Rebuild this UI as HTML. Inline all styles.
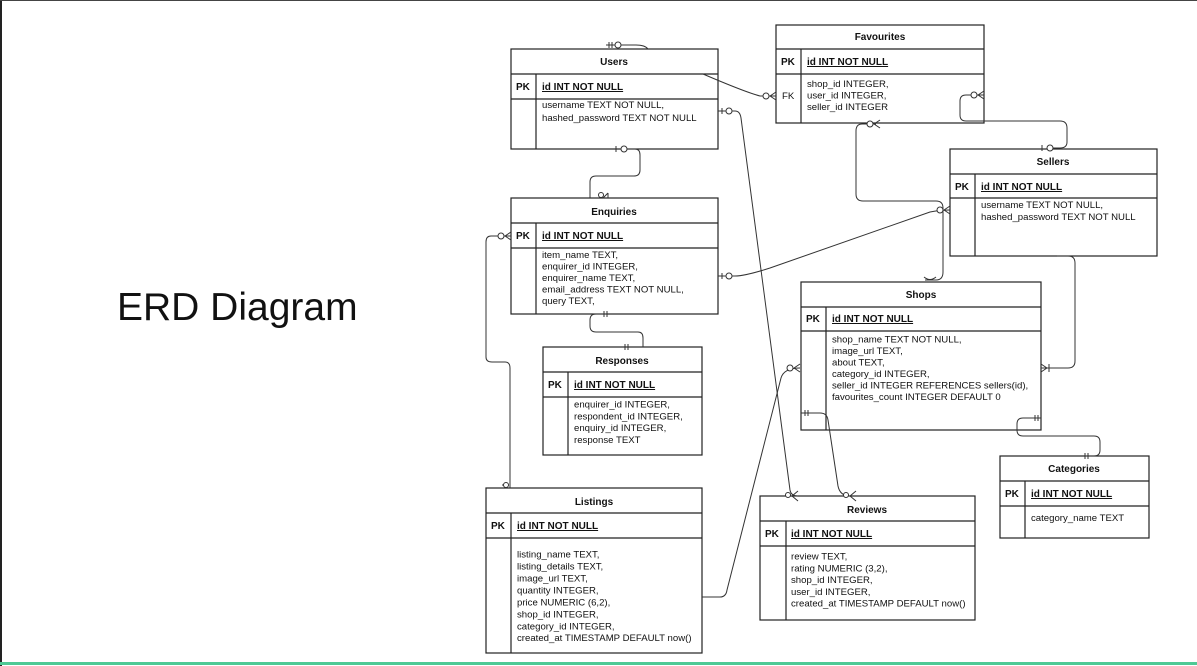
<!DOCTYPE html>
<html><head><meta charset="utf-8"><style>
html,body{margin:0;padding:0;background:#fff;}
svg{display:block;}
text{font-family:"Liberation Sans",Arial,sans-serif;fill:#111;}
.t{font-size:10px;font-weight:bold;text-anchor:middle;}
.pk{font-size:10px;font-weight:bold;}
.b{font-size:9.6px;}
.r{fill:#fff;stroke:#222;stroke-width:1.2;}
.l{stroke:#222;stroke-width:1.2;fill:none;}
.c{stroke:#333;stroke-width:1;fill:none;}
</style></head><body>
<svg width="1197" height="666" viewBox="0 0 1197 666" xmlns="http://www.w3.org/2000/svg">
<rect x="0" y="0" width="1197" height="666" fill="#fff"/>
<rect x="0" y="0" width="2" height="666" fill="#222"/>
<rect x="0" y="0" width="1197" height="1" fill="#444"/>
<rect x="0" y="662" width="1197" height="3" fill="#4ec995"/>
<text x="117" y="320" style="font-size:39px" fill="#222">ERD Diagram</text>

<!-- Users -->
<rect class="r" x="511" y="49" width="207" height="100"/>
<path class="l" d="M511,74 H718 M511,99 H718 M536,74 V149"/>
<text class="t" x="614" y="65">Users</text>
<text class="pk" x="516" y="90">PK</text><text class="pk" x="542" y="90" text-decoration="underline">id INT NOT NULL</text>
<text class="b" x="542" y="108">username TEXT NOT NULL,</text>
<text class="b" x="542" y="121">hashed_password TEXT NOT NULL</text>

<!-- Favourites -->
<rect class="r" x="776" y="25" width="208" height="98"/>
<path class="l" d="M776,49 H984 M776,74 H984 M801,49 V123"/>
<text class="t" x="880" y="40">Favourites</text>
<text class="pk" x="781" y="65">PK</text><text class="pk" x="807" y="65" text-decoration="underline">id INT NOT NULL</text>
<text class="b" x="782" y="99">FK</text>
<text class="b" x="807" y="87">shop_id INTEGER,</text>
<text class="b" x="807" y="98.5">user_id INTEGER,</text>
<text class="b" x="807" y="110">seller_id INTEGER</text>

<!-- Sellers -->
<rect class="r" x="950" y="149" width="207" height="107"/>
<path class="l" d="M950,174 H1157 M950,198 H1157 M975,174 V256"/>
<text class="t" x="1053" y="165">Sellers</text>
<text class="pk" x="955" y="190">PK</text><text class="pk" x="981" y="190" text-decoration="underline">id INT NOT NULL</text>
<text class="b" x="981" y="208">username TEXT NOT NULL,</text>
<text class="b" x="981" y="220">hashed_password TEXT NOT NULL</text>

<!-- Enquiries -->
<rect class="r" x="511" y="198" width="207" height="116"/>
<path class="l" d="M511,223 H718 M511,248 H718 M536,223 V314"/>
<text class="t" x="614" y="215">Enquiries</text>
<text class="pk" x="516" y="239">PK</text><text class="pk" x="542" y="239" text-decoration="underline">id INT NOT NULL</text>
<text class="b" x="542" y="258">item_name TEXT,</text>
<text class="b" x="542" y="269.5">enquirer_id INTEGER,</text>
<text class="b" x="542" y="281">enquirer_name TEXT,</text>
<text class="b" x="542" y="292.5">email_address TEXT NOT NULL,</text>
<text class="b" x="542" y="304">query TEXT,</text>

<!-- Responses -->
<rect class="r" x="543" y="347" width="159" height="108"/>
<path class="l" d="M543,372 H702 M543,397 H702 M568,372 V455"/>
<text class="t" x="622" y="364">Responses</text>
<text class="pk" x="548" y="388">PK</text><text class="pk" x="574" y="388" text-decoration="underline">id INT NOT NULL</text>
<text class="b" x="574" y="407.5">enquirer_id INTEGER,</text>
<text class="b" x="574" y="419.5">respondent_id INTEGER,</text>
<text class="b" x="574" y="431">enquiry_id INTEGER,</text>
<text class="b" x="574" y="443">response TEXT</text>

<!-- Shops -->
<rect class="r" x="801" y="282" width="240" height="148"/>
<path class="l" d="M801,307 H1041 M801,331 H1041 M826,307 V430"/>
<text class="t" x="921" y="298">Shops</text>
<text class="pk" x="806" y="322">PK</text><text class="pk" x="832" y="322" text-decoration="underline">id INT NOT NULL</text>
<text class="b" x="832" y="342.5">shop_name TEXT NOT NULL,</text>
<text class="b" x="832" y="354">image_url TEXT,</text>
<text class="b" x="832" y="365.5">about TEXT,</text>
<text class="b" x="832" y="377">category_id INTEGER,</text>
<text class="b" x="832" y="388.5">seller_id INTEGER REFERENCES sellers(id),</text>
<text class="b" x="832" y="400">favourites_count INTEGER DEFAULT 0</text>

<!-- Categories -->
<rect class="r" x="1000" y="456" width="149" height="82"/>
<path class="l" d="M1000,481 H1149 M1000,506 H1149 M1025,481 V538"/>
<text class="t" x="1074" y="472">Categories</text>
<text class="pk" x="1005" y="497">PK</text><text class="pk" x="1031" y="497" text-decoration="underline">id INT NOT NULL</text>
<text class="b" x="1031" y="521">category_name TEXT</text>

<!-- Listings -->
<rect class="r" x="486" y="488" width="216" height="165"/>
<path class="l" d="M486,513 H702 M486,538 H702 M511,513 V653"/>
<text class="t" x="594" y="505">Listings</text>
<text class="pk" x="491" y="529">PK</text><text class="pk" x="517" y="529" text-decoration="underline">id INT NOT NULL</text>
<text class="b" x="517" y="557.5">listing_name TEXT,</text>
<text class="b" x="517" y="569.5">listing_details TEXT,</text>
<text class="b" x="517" y="581.5">image_url TEXT,</text>
<text class="b" x="517" y="593.5">quantity INTEGER,</text>
<text class="b" x="517" y="605.5">price NUMERIC (6,2),</text>
<text class="b" x="517" y="617.5">shop_id INTEGER,</text>
<text class="b" x="517" y="629.5">category_id INTEGER,</text>
<text class="b" x="517" y="641">created_at TIMESTAMP DEFAULT now()</text>

<!-- Reviews -->
<rect class="r" x="760" y="496" width="215" height="124"/>
<path class="l" d="M760,521 H975 M760,546 H975 M786,521 V620"/>
<text class="t" x="867" y="513">Reviews</text>
<text class="pk" x="765" y="537">PK</text><text class="pk" x="791" y="537" text-decoration="underline">id INT NOT NULL</text>
<text class="b" x="791" y="559.5">review TEXT,</text>
<text class="b" x="791" y="571.5">rating NUMERIC (3,2),</text>
<text class="b" x="791" y="583">shop_id INTEGER,</text>
<text class="b" x="791" y="595">user_id INTEGER,</text>
<text class="b" x="791" y="606.5">created_at TIMESTAMP DEFAULT now()</text>

<!-- connectors -->
<g class="c">
<path d="M606,45 H636 Q645,45 648,49"/>
<path d="M609,42 V48 M612,42 V48"/><circle cx="618" cy="45" r="3" fill="#fff"/>
<path d="M703,74 Q745,92 760,96 H776"/>
<circle cx="766" cy="96" r="3" fill="#fff"/><path d="M770,96 L776,92 M770,96 L776,100"/>
<path d="M718,111 H735 Q740,111 741,118 L790,490 Q791,496 798,496"/>
<path d="M722,108 V114"/><circle cx="729" cy="111" r="3" fill="#fff"/>
<path d="M792,496 L798,491 M792,496 L798,501"/><circle cx="788" cy="495" r="2.5" fill="#fff"/>
<path d="M620,149 H635 Q640,149 640,155 V170 Q640,176 634,176 H596 Q590,176 590,182 V198"/>
<path d="M616,146 V152"/><circle cx="624" cy="149" r="3" fill="#fff"/>
<path d="M603,198 L608,193 M608,198 L608,193"/><circle cx="601" cy="195" r="2.5" fill="#fff"/>
<path d="M984,95 H966 Q960,95 960,101 V115 Q960,121 966,121 H1060 Q1067,121 1067,128 V142 Q1067,148 1060,148 H1048"/>
<circle cx="974" cy="95" r="3" fill="#fff"/><path d="M978,95 L984,91 M978,95 L984,99"/>
<path d="M1042,145 V151"/><circle cx="1050" cy="148" r="3" fill="#fff"/>
<path d="M876,124 H862 Q856,124 856,131 V194 Q856,201 863,201 H936 Q943,201 943,208 V272 Q943,280 936,280 H925"/>
<circle cx="870" cy="124" r="3" fill="#fff"/><path d="M874,124 L880,120 M874,124 L880,128"/>
<path d="M924,277 Q930,282 936,277"/>
<path d="M718,276 H735 Q745,276 770,268 L930,212 Q940,210 950,210"/>
<path d="M722,273 V279"/><circle cx="729" cy="276" r="3" fill="#fff"/>
<circle cx="940" cy="210" r="3" fill="#fff"/><path d="M944,210 L950,206 M944,210 L950,214"/>
<path d="M511,236 H491 Q486,236 486,242 V357 Q486,362 492,362 H505 Q510,362 510,368 V488"/>
<circle cx="501" cy="236" r="3" fill="#fff"/><path d="M505,236 L511,232 M505,236 L511,240"/>
<path d="M502,485 H507"/><circle cx="506" cy="485" r="2.5" fill="#fff"/>
<path d="M607,314 H596 Q590,314 590,320 V326 Q590,332 596,332 H638 Q643,332 643,338 V347"/>
<path d="M604,311 V317 M607,311 V317 M625,344 V350 M628,344 V350"/>
<path d="M702,597 H720 Q726,597 727,590 L781,378 Q784,368 800,368"/>
<circle cx="790" cy="368" r="3" fill="#fff"/><path d="M794,368 L800,364 M794,368 L800,372"/>
<path d="M801,413 H820 Q827,413 828,420 L838,486 Q840,496 850,496"/>
<path d="M805,410 V416 M808,410 V416"/>
<path d="M850,496 L856,491 M850,496 L856,501"/><circle cx="846" cy="495" r="2.5" fill="#fff"/>
<path d="M1041,418 H1023 Q1017,418 1017,424 V430 Q1017,436 1023,436 H1094 Q1100,436 1100,442 V450 Q1100,456 1094,456 H1085"/>
<path d="M1035,415 V421 M1038,415 V421 M1085,453 V459 M1088,453 V459"/>
<path d="M1057,256 H1068 Q1075,256 1075,263 V361 Q1075,368 1068,368 H1041"/>
<path d="M1047,368 L1041,364 M1047,368 L1041,372 M1049,364 V372"/>
</g>
</svg>
</body></html>
